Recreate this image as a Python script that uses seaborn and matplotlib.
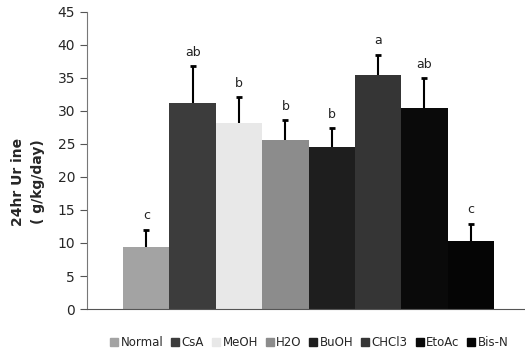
import matplotlib
matplotlib.use("Agg")
import matplotlib.pyplot as plt
import seaborn as sns
import pandas as pd
from matplotlib.lines import Line2D

groups = ["Normal", "CsA", "MeOH", "H2O", "BuOH", "CHCl3", "EtoAc", "Bis-N"]
means = [9.4, 31.2, 28.2, 25.6, 24.5, 35.5, 30.4, 10.3]
errors = [2.6, 5.6, 3.9, 3.0, 2.9, 3.0, 4.6, 2.6]
letters = ["c", "ab", "b", "b", "b", "a", "ab", "c"]
colors = ["#a3a3a3", "#3c3c3c", "#e8e8e8", "#8c8c8c", "#1e1e1e", "#353535", "#0a0a0a", "#050505"]
yticks = [0, 5, 10, 15, 20, 25, 30, 35, 40, 45]

df = pd.DataFrame({"group": groups, "value": means})

sns.set_style("white")
fig = plt.figure(figsize=(5.25, 3.61), dpi=100)
ax = fig.add_axes([0.1657, 0.144, 0.8343, 0.823])

sns.barplot(data=df, x="group", y="value", hue="group", order=groups,
            hue_order=groups, palette=colors, dodge=False, width=1.0,
            legend=False, ax=ax, edgecolor="none", linewidth=0)

xs = list(range(len(groups)))
eb = ax.errorbar(xs, means, yerr=[[0] * len(means), errors], fmt="none",
                 ecolor="black", elinewidth=1.5, capsize=2.5, capthick=2,
                 zorder=5)
eb[1][0].set_visible(False)
for x, m, e, t in zip(xs, means, errors, letters):
    ax.text(x, m + e + 2.1, t, ha="center", va="center", fontsize=9,
            color="#222222")

ax.set_xlim(-1.28, 8.17)
ax.set_ylim(0, 45)
ax.set_yticks(yticks)
ax.set_yticklabels([str(v) for v in yticks], fontsize=10)
ax.set_xticks([])
ax.set_xlabel("")
ax.set_ylabel("")
fig.text(28 / 525, 1 - 182 / 361, "24hr Ur ine\n( g/kg/day)", rotation=90,
         ha="center", va="center", fontsize=10, fontweight="bold",
         linespacing=1.5, multialignment="center")
for s in ["top", "right"]:
    ax.spines[s].set_visible(False)
ax.spines["left"].set_color("#777777")
ax.spines["left"].set_linewidth(0.8)
ax.spines["bottom"].set_color("#555555")
ax.spines["bottom"].set_linewidth(0.8)
ax.tick_params(axis="y", length=5, width=0.8, color="#555555", direction="out",
               left=True, pad=3.5)

handles = [Line2D([0], [0], marker="s", linestyle="none", markersize=6,
                  markerfacecolor=c, markeredgecolor=c) for c in colors]
fig.legend(handles, groups, loc="center", bbox_to_anchor=(309 / 525, 1 - 343 / 361),
           ncol=8, frameon=False, fontsize=8.5, handlelength=0.8,
           handletextpad=0.15, columnspacing=0.6)

fig.savefig("out.png", dpi=100)
